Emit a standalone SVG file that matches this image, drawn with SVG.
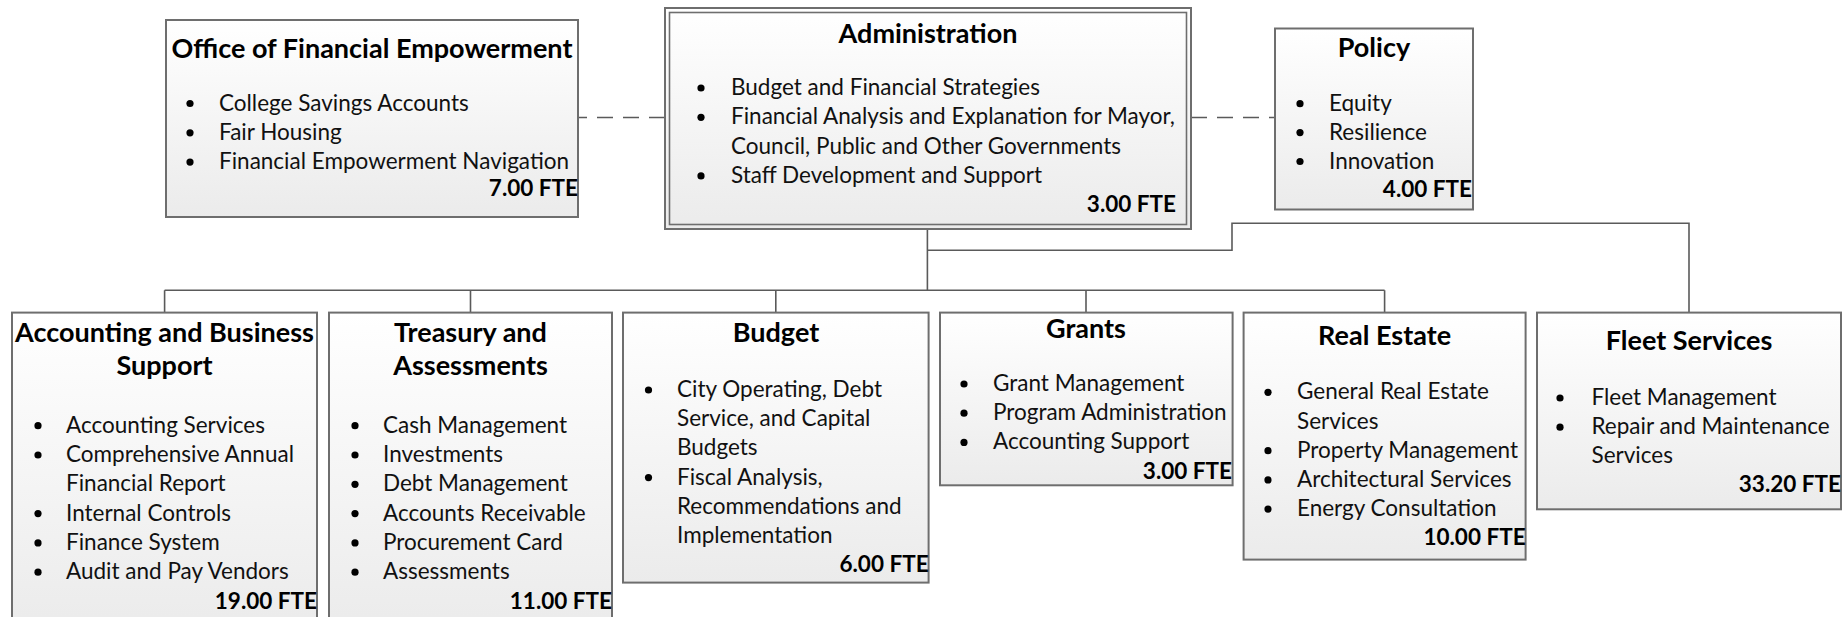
<svg xmlns="http://www.w3.org/2000/svg" width="1843" height="617" viewBox="0 0 1843 617">
  <defs>
    <linearGradient id="fill" x1="0" y1="0" x2="0" y2="1">
      <stop offset="0" stop-color="#ffffff"/>
      <stop offset="1" stop-color="#ebebeb"/>
    </linearGradient>
  </defs>
  <style>
    .box { fill: url(#fill); stroke: #6e6e6e; stroke-width: 2; }
    .frame { fill: none; stroke: #6e6e6e; stroke-width: 1.6; }
    .t { font-family: Lato, "Liberation Sans", sans-serif; font-weight: bold; font-size: 27px; fill: #000; text-anchor: middle; }
    .b { font-family: Lato, "Liberation Sans", sans-serif; font-size: 22.5px; fill: #111; }
    .f { font-family: Lato, "Liberation Sans", sans-serif; font-weight: bold; font-size: 22.5px; fill: #000; text-anchor: end; }
    .dot { fill: #000; }
    .conn { fill: none; stroke: #5a5a5a; stroke-width: 1.6; }
    .dash { fill: none; stroke: #5a5a5a; stroke-width: 1.6; stroke-dasharray: 16 10; }
  </style>

  <rect width="1843" height="617" fill="#ffffff"/>

  <!-- reporting lines -->
  <g id="connectors">
    <path class="dash" d="M665 117.5 H578"/>
    <path class="dash" d="M1191 117.5 H1275"/>
    <path class="conn" d="M927.4 229 V290.3 M164.6 290.3 H1384.6 M164.6 290.3 V312.6 M470.5 290.3 V312.6 M775.8 290.3 V312.6 M1086 290.3 V312.6 M1384.6 290.3 V312.6"/>
    <path class="conn" d="M927.4 250.3 H1232 V223.3 H1689 V312.6"/>
  </g>

  <g id="office-financial-empowerment">
    <rect class="box" x="166" y="20" width="412" height="197"/>
    <text class="t" x="372" y="58">Office of Financial Empowerment</text>
    <circle class="dot" cx="190" cy="103.5" r="3.6"/>
    <circle class="dot" cx="190" cy="132.8" r="3.6"/>
    <circle class="dot" cx="190" cy="162.1" r="3.6"/>
    <text class="b" x="219" y="110.5">College Savings Accounts</text>
    <text class="b" x="219" y="139.8">Fair Housing</text>
    <text class="b" x="219" y="169.1">Financial Empowerment Navigation</text>
    <text class="f" x="578" y="196">7.00 FTE</text>
  </g>

  <g id="administration">
    <rect class="box" x="665" y="8" width="526" height="221"/>
    <rect class="frame" x="669.5" y="12.5" width="517" height="212"/>
    <text class="t" x="928" y="42.5">Administration</text>
    <circle class="dot" cx="701" cy="88" r="3.6"/>
    <circle class="dot" cx="701" cy="117.3" r="3.6"/>
    <circle class="dot" cx="701" cy="175.9" r="3.6"/>
    <text class="b" x="731" y="95">Budget and Financial Strategies</text>
    <text class="b" x="731" y="124.3">Financial Analysis and Explanation for Mayor,</text>
    <text class="b" x="731" y="153.6">Council, Public and Other Governments</text>
    <text class="b" x="731" y="182.9">Staff Development and Support</text>
    <text class="f" x="1176" y="212">3.00 FTE</text>
  </g>

  <g id="policy">
    <rect class="box" x="1275" y="28.5" width="198" height="181"/>
    <text class="t" x="1374" y="57">Policy</text>
    <circle class="dot" cx="1300" cy="103.7" r="3.6"/>
    <circle class="dot" cx="1300" cy="132.6" r="3.6"/>
    <circle class="dot" cx="1300" cy="161.5" r="3.6"/>
    <text class="b" x="1329" y="110.7">Equity</text>
    <text class="b" x="1329" y="139.6">Resilience</text>
    <text class="b" x="1329" y="168.5">Innovation</text>
    <text class="f" x="1472" y="197">4.00 FTE</text>
  </g>

  <g id="accounting-business-support">
    <rect class="box" x="12" y="312.6" width="305" height="320"/>
    <text class="t" x="164.5" y="341.7">Accounting and Business</text>
    <text class="t" x="164.5" y="375">Support</text>
    <circle class="dot" cx="38" cy="425.7" r="3.6"/>
    <circle class="dot" cx="38" cy="455" r="3.6"/>
    <circle class="dot" cx="38" cy="513.6" r="3.6"/>
    <circle class="dot" cx="38" cy="542.9" r="3.6"/>
    <circle class="dot" cx="38" cy="572.2" r="3.6"/>
    <text class="b" x="66" y="432.7">Accounting Services</text>
    <text class="b" x="66" y="462">Comprehensive Annual</text>
    <text class="b" x="66" y="491.3">Financial Report</text>
    <text class="b" x="66" y="520.6">Internal Controls</text>
    <text class="b" x="66" y="549.9">Finance System</text>
    <text class="b" x="66" y="579.2">Audit and Pay Vendors</text>
    <text class="f" x="317" y="608.5">19.00 FTE</text>
  </g>

  <g id="treasury-assessments">
    <rect class="box" x="329" y="312.6" width="283" height="320"/>
    <text class="t" x="470.5" y="341.7">Treasury and</text>
    <text class="t" x="470.5" y="375">Assessments</text>
    <circle class="dot" cx="355" cy="425.7" r="3.6"/>
    <circle class="dot" cx="355" cy="455" r="3.6"/>
    <circle class="dot" cx="355" cy="484.3" r="3.6"/>
    <circle class="dot" cx="355" cy="513.6" r="3.6"/>
    <circle class="dot" cx="355" cy="542.9" r="3.6"/>
    <circle class="dot" cx="355" cy="572.2" r="3.6"/>
    <text class="b" x="383" y="432.7">Cash Management</text>
    <text class="b" x="383" y="462">Investments</text>
    <text class="b" x="383" y="491.3">Debt Management</text>
    <text class="b" x="383" y="520.6">Accounts Receivable</text>
    <text class="b" x="383" y="549.9">Procurement Card</text>
    <text class="b" x="383" y="579.2">Assessments</text>
    <text class="f" x="612" y="608.5">11.00 FTE</text>
  </g>

  <g id="budget">
    <rect class="box" x="623" y="312.6" width="305.6" height="270"/>
    <text class="t" x="776" y="341.7">Budget</text>
    <circle class="dot" cx="648.5" cy="390" r="3.6"/>
    <circle class="dot" cx="648.5" cy="477.6" r="3.6"/>
    <text class="b" x="677" y="397">City Operating, Debt</text>
    <text class="b" x="677" y="426.2">Service, and Capital</text>
    <text class="b" x="677" y="455.4">Budgets</text>
    <text class="b" x="677" y="484.6">Fiscal Analysis,</text>
    <text class="b" x="677" y="513.8">Recommendations and</text>
    <text class="b" x="677" y="543">Implementation</text>
    <text class="f" x="928.6" y="572">6.00 FTE</text>
  </g>

  <g id="grants">
    <rect class="box" x="940" y="312.6" width="292.6" height="172.7"/>
    <text class="t" x="1086" y="337.5">Grants</text>
    <circle class="dot" cx="964" cy="384" r="3.6"/>
    <circle class="dot" cx="964" cy="413.2" r="3.6"/>
    <circle class="dot" cx="964" cy="442.4" r="3.6"/>
    <text class="b" x="993" y="391">Grant Management</text>
    <text class="b" x="993" y="420.2">Program Administration</text>
    <text class="b" x="993" y="449.4">Accounting Support</text>
    <text class="f" x="1232" y="478.5">3.00 FTE</text>
  </g>

  <g id="real-estate">
    <rect class="box" x="1243.6" y="312.6" width="282" height="247"/>
    <text class="t" x="1384.6" y="345">Real Estate</text>
    <circle class="dot" cx="1268" cy="392.3" r="3.6"/>
    <circle class="dot" cx="1268" cy="450.7" r="3.6"/>
    <circle class="dot" cx="1268" cy="479.9" r="3.6"/>
    <circle class="dot" cx="1268" cy="509.1" r="3.6"/>
    <text class="b" x="1297" y="399.3">General Real Estate</text>
    <text class="b" x="1297" y="428.5">Services</text>
    <text class="b" x="1297" y="457.7">Property Management</text>
    <text class="b" x="1297" y="486.9">Architectural Services</text>
    <text class="b" x="1297" y="516.1">Energy Consultation</text>
    <text class="f" x="1525.6" y="545.3">10.00 FTE</text>
  </g>

  <g id="fleet-services">
    <rect class="box" x="1537" y="312.6" width="304" height="196.7"/>
    <text class="t" x="1689" y="349.5">Fleet Services</text>
    <circle class="dot" cx="1560" cy="398" r="3.6"/>
    <circle class="dot" cx="1560" cy="427.2" r="3.6"/>
    <text class="b" x="1591.5" y="405">Fleet Management</text>
    <text class="b" x="1591.5" y="434.2">Repair and Maintenance</text>
    <text class="b" x="1591.5" y="463.4">Services</text>
    <text class="f" x="1841" y="492">33.20 FTE</text>
  </g>
</svg>
